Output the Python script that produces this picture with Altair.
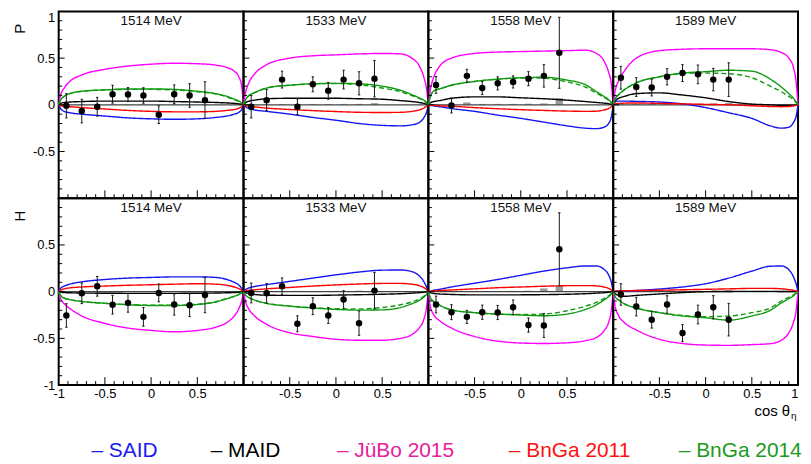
import altair as alt
import pandas as pd

FONT = "Liberation Sans"
W = 186
H = 188

COS = [-1, -0.98, -0.94, -0.88, -0.75, -0.5, -0.25, 0, 0.25, 0.5, 0.7, 0.82, 0.9, 0.95, 0.98, 1]
# data bin centres (cos theta_eta)
BINS = [-0.917, -0.75, -0.583, -0.417, -0.25, -0.083, 0.083, 0.25, 0.417, 0.583]

MODELS = ["SAID", "MAID", "JüBo 2015", "BnGa 2011", "BnGa 2014"]
LINE_COLORS = ["#1616f0", "#000000", "#ff00ff", "#ff0000", "#109a10"]
LEGEND_COLORS = ["#1a1af0", "#000000", "#e8209c", "#ff1010", "#1a9a1a"]
LEGEND_X = [33, 153, 280, 453, 624]

ENERGIES = [1514, 1533, 1558, 1589]
X_MAJOR = [-0.5, 0, 0.5]
X_MINOR = [-0.9, -0.8, -0.7, -0.6, -0.4, -0.3, -0.2, -0.1, 0.1, 0.2, 0.3, 0.4, 0.6, 0.7, 0.8, 0.9]

# ---------------- model curves: P ----------------
P_1514 = {
    "SAID": [0, -0.04, -0.07, -0.085, -0.1, -0.12, -0.14, -0.15, -0.155, -0.15, -0.135, -0.12, -0.1, -0.08, -0.05, 0],
    "MAID": [0, 0.015, 0.025, 0.03, 0.035, 0.04, 0.04, 0.04, 0.035, 0.03, 0.025, 0.02, 0.015, 0.01, 0.005, 0],
    "JüBo 2015": [0, 0.1, 0.18, 0.25, 0.32, 0.38, 0.415, 0.435, 0.445, 0.44, 0.425, 0.4, 0.36, 0.3, 0.2, 0],
    "BnGa 2011": [0, -0.01, -0.015, -0.02, -0.03, -0.045, -0.06, -0.07, -0.075, -0.075, -0.07, -0.06, -0.05, -0.035, -0.02, 0],
    "BnGa 2014": [0, 0.05, 0.09, 0.12, 0.145, 0.16, 0.17, 0.17, 0.165, 0.145, 0.12, 0.09, 0.06, 0.04, 0.02, 0],
    "BnGa 2014 dashed": [0, 0.05, 0.09, 0.12, 0.145, 0.16, 0.165, 0.165, 0.16, 0.14, 0.115, 0.085, 0.055, 0.035, 0.015, 0],
}
P_1533 = {
    "SAID": [0, -0.02, -0.04, -0.055, -0.07, -0.1, -0.135, -0.165, -0.2, -0.22, -0.225, -0.215, -0.19, -0.14, -0.08, 0],
    "MAID": [0, 0.02, 0.04, 0.05, 0.065, 0.07, 0.07, 0.07, 0.065, 0.06, 0.045, 0.035, 0.025, 0.015, 0.007, 0],
    "JüBo 2015": [0, 0.12, 0.24, 0.33, 0.43, 0.5, 0.525, 0.535, 0.545, 0.55, 0.545, 0.5, 0.42, 0.3, 0.17, 0],
    "BnGa 2011": [0, -0.008, -0.015, -0.022, -0.035, -0.05, -0.062, -0.072, -0.08, -0.082, -0.08, -0.07, -0.055, -0.035, -0.015, 0],
    "BnGa 2014": [0, 0.05, 0.1, 0.13, 0.18, 0.21, 0.225, 0.23, 0.225, 0.2, 0.155, 0.11, 0.075, 0.05, 0.025, 0],
    "BnGa 2014 dashed": [0, 0.05, 0.1, 0.13, 0.18, 0.21, 0.225, 0.228, 0.215, 0.18, 0.14, 0.1, 0.068, 0.045, 0.02, 0],
}
P_1558 = {
    "SAID": [0, -0.005, -0.012, -0.02, -0.04, -0.07, -0.11, -0.145, -0.185, -0.225, -0.25, -0.255, -0.24, -0.2, -0.13, 0],
    "MAID": [0, 0.02, 0.035, 0.045, 0.07, 0.085, 0.085, 0.075, 0.065, 0.05, 0.035, 0.025, 0.018, 0.012, 0.006, 0],
    "JüBo 2015": [0, 0.15, 0.3, 0.41, 0.5, 0.55, 0.565, 0.57, 0.575, 0.58, 0.585, 0.55, 0.47, 0.35, 0.22, 0],
    "BnGa 2011": [0, -0.003, -0.006, -0.01, -0.015, -0.03, -0.042, -0.052, -0.06, -0.067, -0.07, -0.068, -0.055, -0.04, -0.02, 0],
    "BnGa 2014": [0, 0.08, 0.15, 0.17, 0.21, 0.25, 0.275, 0.29, 0.295, 0.265, 0.215, 0.14, 0.09, 0.055, 0.025, 0],
    "BnGa 2014 dashed": [0, 0.08, 0.15, 0.17, 0.21, 0.25, 0.275, 0.287, 0.285, 0.245, 0.19, 0.125, 0.08, 0.05, 0.022, 0],
}
P_1589 = {
    "SAID": [0, 0.03, 0.04, 0.04, 0.037, 0.03, 0.01, -0.03, -0.085, -0.145, -0.225, -0.25, -0.24, -0.19, -0.12, 0],
    "MAID": [0, 0.04, 0.07, 0.09, 0.12, 0.128, 0.105, 0.075, 0.035, 0.008, 0.0, -0.005, -0.005, -0.003, -0.002, 0],
    "JüBo 2015": [0, 0.14, 0.26, 0.36, 0.5, 0.58, 0.595, 0.6, 0.6, 0.6, 0.59, 0.56, 0.5, 0.4, 0.24, 0],
    "BnGa 2011": [0, 0.01, 0.015, 0.018, 0.02, 0.015, 0.01, 0.005, 0, -0.01, -0.018, -0.02, -0.018, -0.012, -0.006, 0],
    "BnGa 2014": [0, 0.06, 0.11, 0.16, 0.235, 0.3, 0.34, 0.355, 0.37, 0.36, 0.275, 0.19, 0.12, 0.07, 0.03, 0],
    "BnGa 2014 dashed": [0, 0.06, 0.11, 0.16, 0.235, 0.3, 0.335, 0.34, 0.333, 0.29, 0.2, 0.14, 0.09, 0.055, 0.025, 0],
}
# ---------------- model curves: H ----------------
H_1514 = {
    "SAID": [0, 0.035, 0.06, 0.08, 0.105, 0.13, 0.145, 0.152, 0.158, 0.158, 0.152, 0.13, 0.1, 0.07, 0.035, 0],
    "MAID": [0, -0.005, -0.01, -0.012, -0.015, -0.017, -0.018, -0.018, -0.018, -0.017, -0.015, -0.012, -0.01, -0.006, -0.003, 0],
    "JüBo 2015": [0, -0.07, -0.13, -0.18, -0.26, -0.34, -0.39, -0.415, -0.43, -0.415, -0.38, -0.33, -0.26, -0.18, -0.1, 0],
    "BnGa 2011": [0, 0.015, 0.03, 0.04, 0.05, 0.06, 0.068, 0.074, 0.08, 0.085, 0.08, 0.068, 0.05, 0.032, 0.016, 0],
    "BnGa 2014": [0, -0.04, -0.07, -0.085, -0.105, -0.125, -0.14, -0.148, -0.148, -0.138, -0.11, -0.075, -0.05, -0.03, -0.012, 0],
    "BnGa 2014 dashed": [0, -0.04, -0.07, -0.085, -0.105, -0.125, -0.138, -0.145, -0.145, -0.135, -0.108, -0.074, -0.048, -0.028, -0.012, 0],
}
H_1533 = {
    "SAID": [0, 0.02, 0.04, 0.055, 0.075, 0.11, 0.145, 0.18, 0.21, 0.23, 0.232, 0.215, 0.17, 0.11, 0.05, 0],
    "MAID": [0, -0.01, -0.02, -0.03, -0.038, -0.04, -0.04, -0.037, -0.033, -0.028, -0.022, -0.016, -0.011, -0.007, -0.003, 0],
    "JüBo 2015": [0, -0.1, -0.19, -0.26, -0.35, -0.44, -0.48, -0.51, -0.52, -0.52, -0.5, -0.46, -0.39, -0.3, -0.17, 0],
    "BnGa 2011": [0, 0.008, 0.015, 0.02, 0.03, 0.045, 0.06, 0.072, 0.082, 0.088, 0.088, 0.08, 0.065, 0.045, 0.022, 0],
    "BnGa 2014": [0, -0.035, -0.065, -0.09, -0.125, -0.155, -0.175, -0.19, -0.198, -0.195, -0.17, -0.13, -0.095, -0.06, -0.03, 0],
    "BnGa 2014 dashed": [0, -0.035, -0.065, -0.09, -0.125, -0.155, -0.172, -0.183, -0.185, -0.17, -0.14, -0.11, -0.08, -0.05, -0.025, 0],
}
H_1558 = {
    "SAID": [0, 0.005, 0.015, 0.025, 0.05, 0.09, 0.13, 0.175, 0.22, 0.255, 0.275, 0.275, 0.24, 0.18, 0.1, 0],
    "MAID": [0, -0.01, -0.02, -0.025, -0.03, -0.035, -0.035, -0.034, -0.032, -0.028, -0.022, -0.016, -0.011, -0.007, -0.003, 0],
    "JüBo 2015": [0, -0.15, -0.25, -0.31, -0.39, -0.48, -0.53, -0.55, -0.555, -0.548, -0.525, -0.49, -0.42, -0.33, -0.2, 0],
    "BnGa 2011": [0, 0.004, 0.008, 0.012, 0.018, 0.03, 0.042, 0.05, 0.058, 0.064, 0.065, 0.062, 0.05, 0.035, 0.017, 0],
    "BnGa 2014": [0, -0.06, -0.11, -0.145, -0.195, -0.225, -0.24, -0.25, -0.258, -0.24, -0.19, -0.14, -0.09, -0.055, -0.025, 0],
    "BnGa 2014 dashed": [0, -0.06, -0.11, -0.145, -0.195, -0.225, -0.24, -0.245, -0.24, -0.205, -0.155, -0.115, -0.075, -0.045, -0.02, 0],
}
H_1589 = {
    "SAID": [0, 0.003, 0.006, 0.008, 0.012, 0.028, 0.05, 0.085, 0.145, 0.22, 0.272, 0.275, 0.235, 0.16, 0.08, 0],
    "MAID": [0, -0.02, -0.04, -0.05, -0.04, -0.025, -0.01, 0, 0.002, 0.003, 0.003, 0.002, 0.002, 0.001, 0, 0],
    "JüBo 2015": [0, -0.15, -0.26, -0.33, -0.41, -0.51, -0.555, -0.572, -0.575, -0.567, -0.557, -0.52, -0.44, -0.33, -0.2, 0],
    "BnGa 2011": [0, 0.005, 0.008, 0.01, 0.012, 0.015, 0.02, 0.025, 0.03, 0.035, 0.035, 0.03, 0.022, 0.014, 0.007, 0],
    "BnGa 2014": [0, -0.05, -0.09, -0.13, -0.175, -0.225, -0.26, -0.28, -0.305, -0.26, -0.2, -0.12, -0.075, -0.045, -0.02, 0],
    "BnGa 2014 dashed": [0, -0.05, -0.09, -0.13, -0.175, -0.225, -0.255, -0.268, -0.262, -0.225, -0.175, -0.1, -0.06, -0.035, -0.015, 0],
}

# ---------------- measured data ----------------
P_1514_VAL = [-0.01, -0.067, -0.02, 0.114, 0.11, 0.10, -0.106, 0.113, 0.10, 0.05]
P_1514_ERR = [0.13, 0.126, 0.10, 0.096, 0.075, 0.083, 0.094, 0.10, 0.126, 0.197]
P_1514_SYS = [0.005, 0.005, 0.005, 0.005, 0.005, 0.005, 0.005, 0.005, 0.006, 0.008]
P_1533_VAL = [-0.02, 0.05, 0.27, -0.02, 0.22, 0.15, 0.27, 0.23, 0.28]
P_1533_ERR = [0.12, 0.115, 0.09, 0.085, 0.08, 0.09, 0.10, 0.124, 0.195]
P_1533_SYS = [0.005, 0.005, 0.008, 0.005, 0.008, 0.008, 0.01, 0.01, 0.018]
P_1558_VAL = [0.213, -0.007, 0.31, 0.18, 0.23, 0.245, 0.28, 0.31, 0.557]
P_1558_ERR = [0.09, 0.08, 0.07, 0.07, 0.07, 0.065, 0.075, 0.12, 0.38]
P_1558_SYS = [0.008, 0.005, 0.025, 0.01, 0.01, 0.01, 0.012, 0.015, 0.07]
P_1589_VAL = [0.29, 0.19, 0.185, 0.30, 0.34, 0.326, 0.27, 0.27]
P_1589_ERR = [0.122, 0.10, 0.09, 0.087, 0.09, 0.10, 0.12, 0.18]
P_1589_SYS = [0.01, 0.008, 0.008, 0.01, 0.012, 0.012, 0.015, 0.02]

H_1514_VAL = [-0.255, -0.018, 0.057, -0.14, -0.12, -0.27, -0.014, -0.138, -0.145, -0.035]
H_1514_ERR = [0.126, 0.11, 0.105, 0.10, 0.10, 0.10, 0.095, 0.113, 0.122, 0.19]
H_1514_SYS = [0.005, 0.005, 0.005, 0.005, 0.005, 0.005, 0.005, 0.005, 0.006, 0.008]
H_1533_VAL = [-0.014, -0.018, 0.057, -0.344, -0.156, -0.255, -0.085, -0.337, 0.011]
H_1533_ERR = [0.106, 0.106, 0.09, 0.085, 0.09, 0.085, 0.095, 0.13, 0.195]
H_1533_SYS = [0.005, 0.005, 0.005, 0.008, 0.006, 0.008, 0.006, 0.01, 0.012]
H_1558_VAL = [-0.138, -0.22, -0.27, -0.22, -0.223, -0.167, -0.358, -0.362, 0.454]
H_1558_ERR = [0.09, 0.08, 0.07, 0.076, 0.076, 0.078, 0.076, 0.128, 0.39]
H_1558_SYS = [0.005, 0.005, 0.005, 0.005, 0.005, 0.008, 0.01, 0.035, 0.065]
H_1589_VAL = [-0.03, -0.16, -0.30, -0.138, -0.443, -0.245, -0.167, -0.30]
H_1589_ERR = [0.115, 0.10, 0.09, 0.094, 0.092, 0.10, 0.124, 0.174]
H_1589_SYS = [0.006, 0.006, 0.008, 0.006, 0.01, 0.008, 0.01, 0.015]

TOP = [(P_1514, P_1514_VAL, P_1514_ERR, P_1514_SYS),
       (P_1533, P_1533_VAL, P_1533_ERR, P_1533_SYS),
       (P_1558, P_1558_VAL, P_1558_ERR, P_1558_SYS),
       (P_1589, P_1589_VAL, P_1589_ERR, P_1589_SYS)]
BOTTOM = [(H_1514, H_1514_VAL, H_1514_ERR, H_1514_SYS),
          (H_1533, H_1533_VAL, H_1533_ERR, H_1533_SYS),
          (H_1558, H_1558_VAL, H_1558_ERR, H_1558_SYS),
          (H_1589, H_1589_VAL, H_1589_ERR, H_1589_SYS)]


def curve_frame(curves):
    rows = []
    for key, vals in curves.items():
        model = "BnGa 2014" if key.startswith("BnGa 2014") else key
        style = "dashed" if key.endswith("dashed") else "solid"
        for c, v in zip(COS, vals):
            rows.append({"cos": c, "v": v, "model": model, "style": style, "key": key})
    return pd.DataFrame(rows)


def panel(row, col, curves, vals, errs, syst):
    xs = alt.Scale(domain=[-1, 1], nice=False, zero=False)
    ys = alt.Scale(domain=[-1, 1], nice=False, zero=False)
    if row == 1:
        xvals = {0: [-1, -0.5, 0, 0.5], 3: [-0.5, 0, 0.5, 1]}.get(col, [-0.5, 0, 0.5])
        xaxis = alt.Axis(values=xvals, labelExpr="'' + datum.value", title=None, domain=False,
                         ticks=False, tickSize=0, grid=False, labelPadding=3, labelFontSize=13,
                         labelFont=FONT, labelColor="black", labelFlush=(col == 3))
    else:
        xaxis = None
    if col == 0:
        yvals = [1, 0.5, 0, -0.5] if row == 0 else [0.5, 0, -0.5, -1]
        yaxis = alt.Axis(values=yvals, labelExpr="'' + datum.value", title="P" if row == 0 else "H",
                         domain=False, ticks=False, tickSize=0, grid=False, labelPadding=4,
                         labelFontSize=13, labelFont=FONT, labelColor="black",
                         labelFlush=(row == 0), titleFont=FONT, titleFontSize=15,
                         titleFontWeight="normal", titleColor="black", titleAngle=270,
                         titleX=-46, titleY=12, titleAlign="right", titleBaseline="top")
    else:
        yaxis = None

    def X(f):
        return alt.X(f, type="quantitative", scale=xs, axis=xaxis)

    def Y(f):
        return alt.Y(f, type="quantitative", scale=ys, axis=yaxis)

    n = len(vals)
    pdf = pd.DataFrame({"cos": BINS[:n], "val": vals, "err": errs, "sys": syst})
    base = alt.Chart(pdf).transform_calculate(
        lo="datum.val - datum.err", hi="datum.val + datum.err",
        cl="datum.cos - 0.013", cr="datum.cos + 0.013",
        bl="datum.cos - 0.04", br="datum.cos + 0.04", zero="0")

    sysbars = base.mark_rect(color="#9a9a9a").encode(x=X("bl:Q"), x2="br:Q", y=Y("zero:Q"), y2="sys:Q")
    zero = alt.Chart(pd.DataFrame({"z": [0]})).mark_rule(color="#444444", strokeWidth=1.3).encode(y=Y("z:Q"))
    lines = alt.Chart(curve_frame(curves)).mark_line(strokeWidth=1.4, interpolate="monotone").encode(
        x=X("cos:Q"), y=Y("v:Q"),
        color=alt.Color("model:N", scale=alt.Scale(domain=MODELS, range=LINE_COLORS), legend=None),
        strokeDash=alt.StrokeDash("style:N", scale=alt.Scale(domain=["solid", "dashed"], range=[[1, 0], [5, 3]]), legend=None),
        detail="key:N")
    ebar = base.mark_rule(color="#1a1a1a", strokeWidth=1).encode(x=X("cos:Q"), y=Y("lo:Q"), y2="hi:Q")
    cap_lo = base.mark_rule(color="#1a1a1a", strokeWidth=1).encode(x=X("cl:Q"), x2="cr:Q", y=Y("lo:Q"))
    cap_hi = base.mark_rule(color="#1a1a1a", strokeWidth=1).encode(x=X("cl:Q"), x2="cr:Q", y=Y("hi:Q"))
    pts = base.mark_circle(size=42, color="black", opacity=1).encode(x=X("cos:Q"), y=Y("val:Q"))
    lab = alt.Chart(pd.DataFrame({"lab": [f"{ENERGIES[col]} MeV"]})).mark_text(
        font=FONT, fontSize=13.5, baseline="alphabetic", color="#111111").encode(
        x=alt.value(W / 2), y=alt.value(14), text="lab:N")

    layers = [sysbars, zero, lines, ebar, cap_lo, cap_hi, pts, lab]
    for tv, LX, LY in ((X_MINOR, 4, 3.5), (X_MAJOR, 8, 6)):
        tdf = pd.DataFrame({"t": tv})
        tk = alt.Chart(tdf).mark_rule(color="black", strokeWidth=1)
        layers.append(tk.encode(x=X("t:Q"), y=alt.value(H), y2=alt.value(H - LX)))
        layers.append(tk.encode(y=Y("t:Q"), x=alt.value(0), x2=alt.value(LY)))

    if row == 1 and col == 3:
        tdf = pd.DataFrame({"a": ["cos θ"], "b": ["η"]})
        layers.append(alt.Chart(tdf).mark_text(font=FONT, fontSize=15, align="right", baseline="alphabetic",
                                               color="black").encode(x=alt.value(178), y=alt.value(219), text="a:N"))
        layers.append(alt.Chart(tdf).mark_text(font=FONT, fontSize=10, align="left", baseline="alphabetic",
                                               color="black").encode(x=alt.value(179), y=alt.value(222), text="b:N"))

    return alt.layer(*layers).properties(width=W, height=H)


panels = [panel(0, c, *TOP[c]) for c in range(4)] + [panel(1, c, *BOTTOM[c]) for c in range(4)]

leg_df = pd.DataFrame({"model": MODELS, "label": ["– " + m for m in MODELS]})
legend = alt.layer(*[
    alt.Chart(leg_df).transform_filter(alt.datum.model == m).mark_text(
        font=FONT, fontSize=21, align="left", baseline="alphabetic", color=c).encode(
        x=alt.value(px), y=alt.value(72), text="label:N")
    for m, c, px in zip(MODELS, LEGEND_COLORS, LEGEND_X)
]).properties(width=W, height=60, view=alt.ViewBackground(stroke="transparent"))

chart = alt.concat(*panels, legend, columns=4, spacing=0, bounds="flush").properties(
    padding={"left": 4, "top": 1, "right": 0, "bottom": 0}
).configure_view(stroke="black", strokeWidth=2).configure_concat(spacing=0)

chart.save("out.html", embed_options={"renderer": "svg", "actions": False})
